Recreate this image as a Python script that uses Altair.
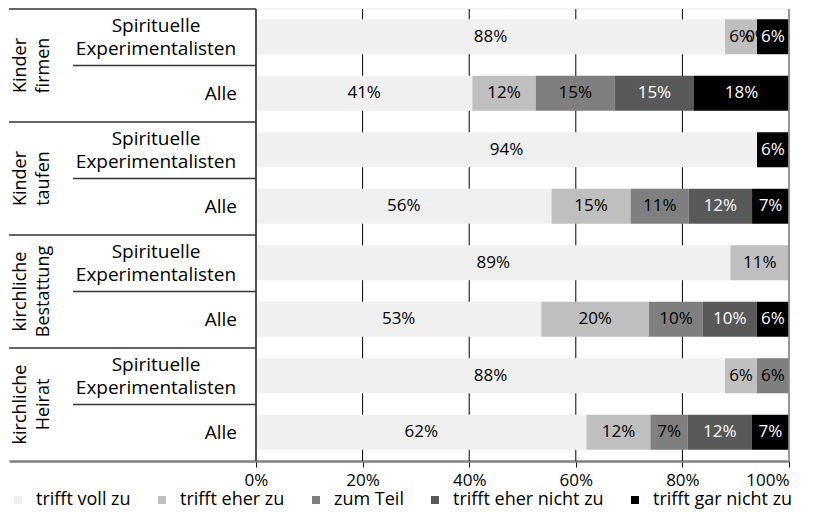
import altair as alt
import pandas as pd

FONT = "Open Sans"

categories = ["trifft voll zu", "trifft eher zu", "zum Teil",
              "trifft eher nicht zu", "trifft gar nicht zu"]
colors = ["#f0f0f0", "#bfbfbf", "#7f7f7f", "#595959", "#000000"]

groups = ["Kinder\nfirmen", "Kinder\ntaufen",
          "kirchliche\nBestattung", "kirchliche\nHeirat"]
subgroups = ["Spirituelle\nExperimentalisten", "Alle"]

# one list per bar, top to bottom (values in %)
firmen_spirit = [88, 6, 0, 0, 6]
firmen_alle = [41, 12, 15, 15, 18]
taufen_spirit = [94, 0, 0, 0, 6]
taufen_alle = [56, 15, 11, 12, 7]
bestattung_spirit = [89, 11, 0, 0, 0]
bestattung_alle = [53, 20, 10, 10, 6]
heirat_spirit = [88, 6, 6, 0, 0]
heirat_alle = [62, 12, 7, 12, 7]

bars_values = [firmen_spirit, firmen_alle, taufen_spirit, taufen_alle,
               bestattung_spirit, bestattung_alle, heirat_spirit, heirat_alle]

tick_values = [0, 0.2, 0.4, 0.6, 0.8, 1.0]
grid_values = [0.2, 0.4, 0.6, 0.8]

# zero-valued segments whose "0%" label is still printed in the original
zero_labels = [(0, "zum Teil")]

UNIT = 788 - 255          # pixels for 0..100 %
XMIN = -(255 - 8) / UNIT  # room for the label table on the left
NROWS = len(bars_values)

rows = []
for i, vals in enumerate(bars_values):
    for j, c in enumerate(categories):
        show = vals[j] > 0 or (i, c) in zero_labels
        rows.append(dict(bar=i, cat=c, rank=j, val=vals[j],
                         lab=f"{vals[j]}%" if show else ""))
df = pd.DataFrame(rows)

xs = alt.Scale(domain=[XMIN, 1], nice=False, zero=False)
ys = alt.Scale(domain=[0, NROWS], nice=False, zero=False, reverse=True)

# identical axis definition on every layer so that the layers merge cleanly
xaxis = alt.Axis(values=tick_values, format=".0%", title=None,
                 grid=False, domainColor="#808080", domainWidth=2.5,
                 tickColor="#000000", tickWidth=1, tickSize=6,
                 labelFont=FONT, labelFontSize=17, labelColor="#000000",
                 labelPadding=5)


def X(field):
    return alt.X(field, scale=xs, axis=xaxis)


def Y(field):
    return alt.Y(field, scale=ys, axis=None)


base = alt.Chart(df).transform_joinaggregate(
    total="sum(val)", groupby=["bar"]
).transform_window(
    cum="sum(val)", groupby=["bar"],
    sort=[alt.SortField("rank", order="ascending")], frame=[None, 0]
).transform_calculate(
    xb="datum.cum / datum.total",
    xa="(datum.cum - datum.val) / datum.total",
).transform_calculate(
    yt="datum.bar + 0.182", yb="datum.bar + 0.80",
    xm="(datum.xa + datum.xb) / 2", ym="datum.bar + 0.49",
)

bars = base.mark_bar().encode(
    x=X("xa:Q"),
    x2="xb:Q",
    y=Y("yt:Q"),
    y2="yb:Q",
    color=alt.Color("cat:N", scale=alt.Scale(domain=categories, range=colors),
                    legend=alt.Legend(title=None, orient="bottom",
                                      direction="horizontal", symbolType="square",
                                      symbolSize=64, symbolStrokeWidth=0,
                                      labelFont=FONT, labelFontSize=18,
                                      labelColor="#000000", columnPadding=22,
                                      labelOffset=9, labelLimit=0,
                                      padding=0, offset=3)),
)

labels_dark = base.transform_filter(
    "datum.lab != '' && datum.rank < 3").mark_text(
    font=FONT, fontSize=17, color="#000000"
).encode(x=X("xm:Q"), y=Y("ym:Q"), text="lab:N")

labels_light = base.transform_filter(
    "datum.lab != '' && datum.rank >= 3").mark_text(
    font=FONT, fontSize=17, color="#ffffff"
).encode(x=X("xm:Q"), y=Y("ym:Q"), text="lab:N")

# gridlines
grid_df = pd.DataFrame({"gx": grid_values})
grid = alt.Chart(grid_df).mark_rule(color="#000000", strokeWidth=1).encode(
    x=X("gx:Q"))

left_edge = alt.Chart(pd.DataFrame({"ex": [0.0]})).mark_rule(
    color="#404040", strokeWidth=1.8).encode(x=X("ex:Q"))
right_edge = alt.Chart(pd.DataFrame({"ex": [1.0]})).mark_rule(
    color="#8c8c8c", strokeWidth=1.8).encode(x=X("ex:Q"))

top_df = pd.DataFrame({"tx": [0.0], "tx2": [1.0], "ty": [0.0]})
top_line = alt.Chart(top_df).mark_rule(color="#e8e8e8", strokeWidth=1).encode(
    x=X("tx:Q"), x2="tx2:Q", y=Y("ty:Q"))

# table lines on the left
ng = len(groups)
ns = len(subgroups)
tl = []
for g in range(ng):
    tl.append(dict(ly=g * ns, lx=XMIN, lx2=0.0))
    for s in range(1, ns):
        tl.append(dict(ly=g * ns + s, lx=(72 - 255) / UNIT, lx2=0.0))
tl_df = pd.DataFrame(tl)
table_lines = alt.Chart(tl_df).mark_rule(color="#333333", strokeWidth=1.6).encode(
    x=X("lx:Q"), x2="lx2:Q", y=Y("ly:Q"))

GX = (20 - 255) / UNIT
SX = (155 - 255) / UNIT
AX = (236 - 255) / UNIT

g_df = pd.DataFrame({"txt": groups, "gy": [g * ns + ns / 2 for g in range(ng)]})
group_text = alt.Chart(g_df).transform_calculate(
    px=f"{GX}"
).mark_text(
    font=FONT, fontSize=18, angle=270, align="center", baseline="middle",
    lineHeight=23, lineBreak="\n", color="#000000"
).encode(x=X("px:Q"), y=Y("gy:Q"), text="txt:N")

s_rows = []
for g in range(ng):
    for s in range(ns):
        s_rows.append(dict(txt=subgroups[s], sy=g * ns + s + 0.5, kind=s))
s_df = pd.DataFrame(s_rows)
sub_center = alt.Chart(s_df).transform_filter("datum.kind == 0").transform_calculate(
    px=f"{SX}"
).mark_text(
    font=FONT, fontSize=19, align="center", baseline="middle", lineHeight=23,
    lineBreak="\n", dy=-11.5, color="#000000"
).encode(x=X("px:Q"), y=Y("sy:Q"), text="txt:N")
sub_right = alt.Chart(s_df).transform_filter("datum.kind == 1").transform_calculate(
    px=f"{AX}"
).mark_text(
    font=FONT, fontSize=19, align="right", baseline="middle", lineHeight=23,
    lineBreak="\n", color="#000000"
).encode(x=X("px:Q"), y=Y("sy:Q"), text="txt:N")

chart = alt.layer(
    top_line, grid, bars, left_edge, right_edge, labels_dark, labels_light,
    table_lines, group_text, sub_center, sub_right
).properties(
    width=788 - 8, height=452, padding=0
).configure_view(strokeWidth=0)

chart.save("out.html", embed_options={"renderer": "svg", "actions": False})
